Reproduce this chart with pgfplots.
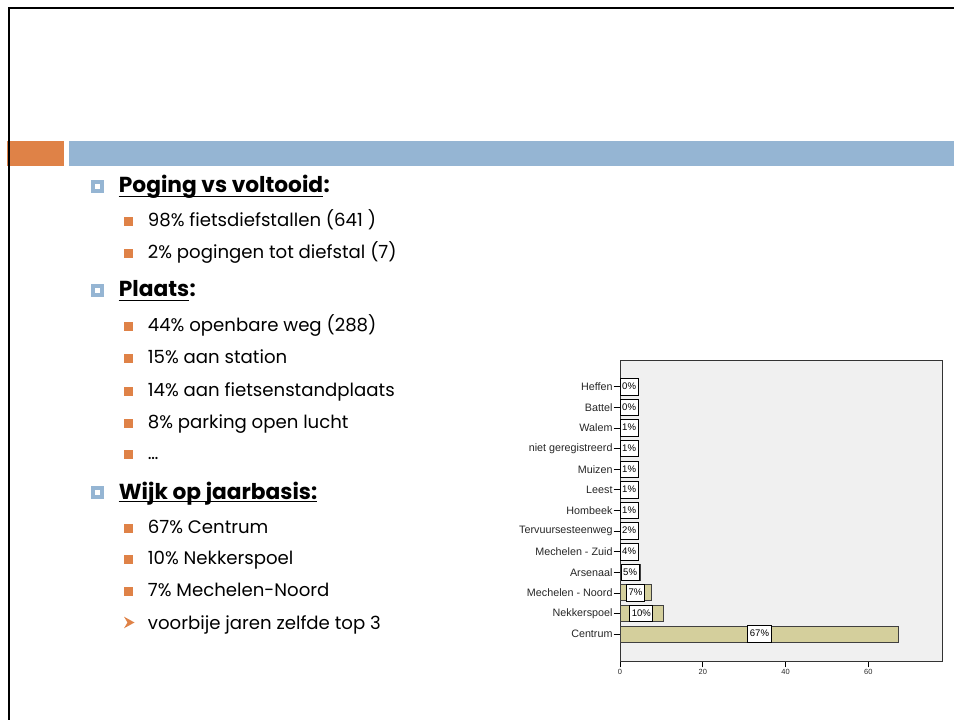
\documentclass[border=0pt]{standalone}
\usepackage{pgfplots}
\pgfplotsset{compat=1.18}
\usepackage{fontspec}
\setmainfont{Liberation Sans}
\newfontfamily\slidefont{Poppins}
\newfontfamily\chartfont{Liberation Sans}
\definecolor{orangeC}{HTML}{DF8247}
\definecolor{blueC}{HTML}{95B5D3}
\definecolor{barC}{HTML}{D4CF9C}
\definecolor{bgC}{HTML}{F0F0F0}
\newcommand{\lvtwo}{\fontsize{18.2}{18.2}\selectfont\slidefont}
\newcommand{\lvone}{\fontsize{21.8}{21.8}\selectfont\slidefont\bfseries}
\begin{document}
\begin{tikzpicture}[x=1bp,y=1bp]
\path[use as bounding box] (0,0) rectangle (954,720);
% header bars
\fill[orangeC] (7.3,554.3) rectangle (64,579);
\fill[blueC] (69,554.3) rectangle (954,579);
% frame
\draw[line width=2.2bp, black] (8.6,0) -- (8.6,711.7) -- (954,711.7);
% level 1 bullets and headings
\foreach \yy in {527,423.3,220.7}{
  \fill[blueC] (91,\yy) rectangle (104,\yy+13);
  \fill[white] (95,\yy+4) rectangle (100,\yy+9);
}
\node[anchor=base west, inner sep=0] (h1) at (118.7,527) {\lvone Poging vs voltooid};
\node[anchor=base west, inner sep=0] at (h1.base east) {\lvone :};
\draw[line width=1.4bp] ([yshift=-3.7bp]h1.base west) -- ([yshift=-3.7bp]h1.base east);
\node[anchor=base west, inner sep=0] (h2) at (118.7,423.3) {\lvone Plaats};
\node[anchor=base west, inner sep=0] at (h2.base east) {\lvone :};
\draw[line width=1.4bp] ([yshift=-3.7bp]h2.base west) -- ([yshift=-3.7bp]h2.base east);
\node[anchor=base west, inner sep=0] (h3) at (118.7,220.7) {\lvone Wijk op jaarbasis:};
\draw[line width=1.4bp] ([yshift=-2.5bp]h3.base west) -- ([yshift=-2.5bp]h3.base east);
% level 2 bullets and text
\foreach \yy/\txt in {493.3/{98\% fietsdiefstallen (641 )},461/{2\% pogingen tot diefstal (7)},388.3/{44\% openbare weg (288)},356.7/{15\% aan station},323.3/{14\% aan fietsenstandplaats},291.7/{8\% parking open lucht},260/{\dots},186.7/{67\% Centrum},155/{10\% Nekkerspoel},123.3/{7\% Mechelen-Noord}}{
  \fill[orangeC] (124,\yy+0.5) rectangle (133,\yy+9.5);
  \node[anchor=base west, inner sep=0] at (147.7,\yy) {\lvtwo \txt};
}
\fill[orangeC] (124,103.3) -- (134.5,97.5) -- (124,91.7) -- (127.5,97.5) -- cycle;
\node[anchor=base west, inner sep=0] at (147.7,90.7) {\lvtwo voorbije jaren zelfde top 3};
% chart
\begin{axis}[
  at={(620bp,59bp)}, anchor=south west,
  width=322bp, height=301bp, scale only axis,
  xmin=0, xmax=77.8, ymin=-1.3, ymax=13.3,
  axis background/.style={fill=bgC},
  axis line style={black!80, line width=0.8bp},
  xtick={0,20,40,60}, ytick={0,...,12},
  xtick pos=bottom, ytick pos=left,
  tick align=outside, major tick length=6.5bp,
  tick style={black, line width=0.8bp},
  yticklabels={Centrum,Nekkerspoel,Mechelen - Noord,Arsenaal,Mechelen - Zuid,Tervuursesteenweg,Hombeek,Leest,Muizen,niet geregistreerd,Walem,Battel,Heffen},
  yticklabel style={font=\chartfont\fontsize{10.8}{10.8}\selectfont, inner sep=0.8bp, text=black!85},
  xticklabel style={font=\chartfont\fontsize{7.5}{7.5}\selectfont, text=black!85, inner sep=1.5bp},
  /pgf/number format/assume math mode=true,
  clip=false,
]
\addplot[xbar, bar width=16bp, fill=barC, draw=black!75, line width=1bp] coordinates {
 (67.4,0) (10.4,1) (7.5,2) (4.9,3) (4.2,4) (2.2,5) (1.2,6) (1.1,7) (1.0,8) (0.9,9) (0.8,10) (0.4,11) (0.3,12)
};
\addplot[draw=none, mark=none, forget plot, nodes near coords, point meta=explicit symbolic,
  every node near coord/.append style={anchor=center, draw=black, fill=white, line width=0.9bp, inner xsep=2bp, inner ysep=0bp, minimum height=16.5bp, text height=7bp, text depth=1.5bp, font=\chartfont\fontsize{9.6}{9.6}\selectfont}]
 table[meta=lab] {
x y lab
33.7 0 67\%
5.15 1 10\%
3.75 2 7\%
2.45 3 5\%
2.2 4 4\%
2.2 5 2\%
2.2 6 1\%
2.2 7 1\%
2.2 8 1\%
2.2 9 1\%
2.2 10 1\%
2.2 11 0\%
2.2 12 0\%
};
\end{axis}
\end{tikzpicture}
\end{document}
